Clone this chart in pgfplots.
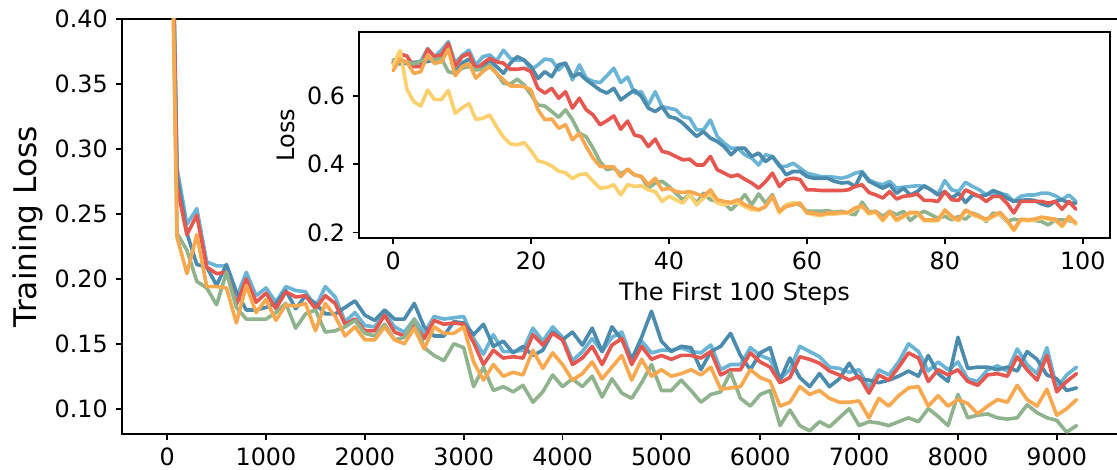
\documentclass[border=0pt]{standalone}
\usepackage{pgfplots}
\pgfplotsset{compat=1.18}
\usepackage{pgfplotstable}
\usepackage{fontspec}
\setmainfont{DejaVu Sans}

\definecolor{cLB}{HTML}{6AB5D6}
\definecolor{cDB}{HTML}{4A8BAE}
\definecolor{cR}{HTML}{E5574F}
\definecolor{cO}{HTML}{F8A84E}
\definecolor{cG}{HTML}{8FB38D}
\definecolor{cY}{HTML}{FDD06E}

\pgfplotstableread{
step lb db r o g
0 0.705 0.700 0.700 0.680 0.700
100 0.285 0.280 0.271 0.232 0.235
200 0.242 0.235 0.234 0.204 0.222
300 0.254 0.211 0.249 0.234 0.198
400 0.213 0.209 0.209 0.194 0.193
500 0.210 0.195 0.204 0.194 0.180
600 0.210 0.211 0.205 0.193 0.205
700 0.185 0.190 0.180 0.166 0.178
800 0.205 0.176 0.200 0.195 0.169
900 0.187 0.176 0.182 0.174 0.169
1000 0.193 0.178 0.189 0.184 0.169
1100 0.182 0.181 0.177 0.168 0.174
1200 0.194 0.191 0.190 0.180 0.181
1300 0.191 0.177 0.186 0.179 0.162
1400 0.190 0.187 0.187 0.181 0.173
1500 0.178 0.181 0.177 0.160 0.176
1600 0.194 0.173 0.187 0.181 0.159
1700 0.186 0.173 0.181 0.171 0.160
1800 0.167 0.178 0.165 0.156 0.163
1900 0.174 0.183 0.169 0.163 0.168
2000 0.164 0.172 0.160 0.153 0.158
2100 0.163 0.168 0.160 0.153 0.156
2200 0.174 0.176 0.172 0.163 0.165
2300 0.163 0.169 0.159 0.153 0.153
2400 0.159 0.169 0.156 0.150 0.155
2500 0.169 0.181 0.165 0.162 0.169
2600 0.158 0.163 0.154 0.146 0.147
2700 0.171 0.156 0.168 0.163 0.141
2800 0.169 0.156 0.165 0.158 0.137
2900 0.170 0.167 0.166 0.158 0.150
3000 0.171 0.166 0.165 0.163 0.147
3100 0.154 0.157 0.151 0.136 0.117
3200 0.142 0.165 0.134 0.122 0.132
3300 0.157 0.148 0.145 0.134 0.114
3400 0.144 0.152 0.139 0.125 0.117
3500 0.144 0.143 0.140 0.128 0.113
3600 0.145 0.148 0.139 0.126 0.118
3700 0.162 0.141 0.157 0.145 0.105
3800 0.152 0.145 0.149 0.131 0.113
3900 0.163 0.159 0.158 0.143 0.126
4000 0.155 0.153 0.153 0.134 0.117
4100 0.137 0.159 0.134 0.122 0.123
4200 0.144 0.149 0.139 0.127 0.117
4300 0.154 0.162 0.148 0.136 0.125
4400 0.144 0.144 0.134 0.123 0.109
4500 0.155 0.163 0.149 0.132 0.123
4600 0.159 0.153 0.154 0.141 0.112
4700 0.138 0.138 0.134 0.122 0.108
4800 0.152 0.155 0.148 0.138 0.120
4900 0.143 0.175 0.138 0.125 0.134
5000 0.145 0.152 0.141 0.130 0.114
5100 0.145 0.144 0.138 0.125 0.114
5200 0.147 0.148 0.141 0.127 0.122
5300 0.144 0.147 0.141 0.130 0.114
5400 0.143 0.130 0.139 0.126 0.105
5500 0.149 0.144 0.144 0.132 0.111
5600 0.130 0.148 0.126 0.115 0.113
5700 0.134 0.158 0.130 0.116 0.128
5800 0.134 0.141 0.130 0.117 0.108
5900 0.147 0.130 0.143 0.130 0.102
6000 0.141 0.143 0.136 0.124 0.111
6100 0.138 0.147 0.132 0.121 0.114
6200 0.123 0.122 0.120 0.102 0.087
6300 0.130 0.139 0.124 0.105 0.099
6400 0.148 0.124 0.140 0.117 0.087
6500 0.144 0.117 0.138 0.111 0.083
6600 0.140 0.127 0.135 0.114 0.090
6700 0.132 0.117 0.129 0.108 0.086
6800 0.131 0.123 0.126 0.105 0.093
6900 0.128 0.135 0.122 0.105 0.100
7000 0.130 0.123 0.125 0.106 0.087
7100 0.116 0.122 0.112 0.093 0.090
7200 0.130 0.120 0.126 0.108 0.089
7300 0.126 0.122 0.122 0.102 0.087
7400 0.136 0.125 0.132 0.110 0.090
7500 0.150 0.129 0.143 0.116 0.093
7600 0.144 0.125 0.139 0.117 0.090
7700 0.129 0.141 0.121 0.102 0.100
7800 0.136 0.127 0.130 0.110 0.094
7900 0.130 0.121 0.126 0.102 0.087
8000 0.136 0.155 0.130 0.107 0.111
8100 0.123 0.131 0.121 0.104 0.093
8200 0.121 0.132 0.118 0.096 0.095
8300 0.130 0.132 0.126 0.102 0.096
8400 0.133 0.130 0.127 0.107 0.093
8500 0.129 0.132 0.125 0.105 0.092
8600 0.146 0.129 0.140 0.118 0.093
8700 0.134 0.144 0.130 0.107 0.103
8800 0.127 0.138 0.122 0.102 0.097
8900 0.147 0.126 0.141 0.115 0.093
9000 0.116 0.123 0.113 0.095 0.091
9100 0.126 0.114 0.121 0.100 0.082
9200 0.132 0.116 0.127 0.107 0.087
}\maintable

\pgfplotstableread{
step lb db r g o y
0 0.700 0.697 0.697 0.707 0.675 0.690
1 0.700 0.695 0.724 0.703 0.708 0.734
2 0.697 0.697 0.718 0.700 0.700 0.620
3 0.689 0.699 0.687 0.695 0.667 0.584
4 0.702 0.702 0.687 0.703 0.672 0.571
5 0.740 0.702 0.738 0.711 0.721 0.618
6 0.716 0.706 0.716 0.707 0.696 0.590
7 0.735 0.716 0.721 0.711 0.701 0.590
8 0.760 0.745 0.755 0.672 0.738 0.617
9 0.697 0.667 0.687 0.667 0.660 0.550
10 0.720 0.697 0.716 0.682 0.687 0.566
11 0.735 0.709 0.726 0.687 0.696 0.578
12 0.692 0.687 0.679 0.677 0.653 0.532
13 0.716 0.687 0.696 0.679 0.672 0.535
14 0.721 0.705 0.711 0.692 0.687 0.545
15 0.704 0.687 0.701 0.667 0.667 0.510
16 0.735 0.667 0.697 0.638 0.648 0.480
17 0.711 0.697 0.679 0.636 0.630 0.460
18 0.706 0.716 0.679 0.650 0.630 0.457
19 0.706 0.706 0.682 0.633 0.628 0.464
20 0.677 0.687 0.672 0.604 0.618 0.440
21 0.692 0.652 0.623 0.574 0.560 0.410
22 0.709 0.672 0.609 0.571 0.531 0.405
23 0.706 0.657 0.623 0.555 0.533 0.395
24 0.677 0.692 0.594 0.538 0.506 0.380
25 0.697 0.697 0.613 0.560 0.516 0.375
26 0.648 0.657 0.565 0.531 0.472 0.358
27 0.692 0.667 0.594 0.491 0.491 0.370
28 0.653 0.648 0.560 0.481 0.452 0.372
29 0.643 0.633 0.545 0.447 0.418 0.350
30 0.640 0.618 0.516 0.408 0.394 0.330
31 0.660 0.609 0.528 0.384 0.392 0.332
32 0.682 0.623 0.542 0.389 0.392 0.340
33 0.640 0.589 0.503 0.372 0.364 0.310
34 0.656 0.604 0.527 0.384 0.386 0.340
35 0.609 0.618 0.486 0.369 0.369 0.335
36 0.613 0.599 0.481 0.364 0.364 0.337
37 0.574 0.565 0.452 0.330 0.340 0.325
38 0.613 0.555 0.474 0.345 0.359 0.320
39 0.569 0.569 0.438 0.350 0.325 0.291
40 0.565 0.540 0.433 0.335 0.330 0.306
41 0.560 0.535 0.423 0.315 0.320 0.296
42 0.540 0.521 0.413 0.296 0.317 0.286
43 0.535 0.501 0.415 0.311 0.320 0.311
44 0.501 0.482 0.398 0.286 0.313 0.281
45 0.501 0.496 0.398 0.315 0.306 0.301
46 0.530 0.477 0.423 0.296 0.325 0.315
47 0.482 0.467 0.384 0.291 0.296 0.286
48 0.462 0.452 0.374 0.286 0.291 0.281
49 0.447 0.428 0.364 0.266 0.288 0.286
50 0.447 0.447 0.369 0.286 0.296 0.286
51 0.428 0.447 0.356 0.311 0.281 0.276
52 0.418 0.423 0.345 0.281 0.274 0.266
53 0.398 0.433 0.330 0.313 0.266 0.266
54 0.428 0.408 0.349 0.286 0.276 0.276
55 0.423 0.423 0.374 0.311 0.306 0.306
56 0.394 0.398 0.335 0.262 0.262 0.257
57 0.394 0.369 0.355 0.281 0.276 0.281
58 0.403 0.379 0.359 0.286 0.281 0.286
59 0.389 0.379 0.355 0.281 0.286 0.286
60 0.374 0.364 0.325 0.262 0.257 0.257
61 0.369 0.359 0.325 0.262 0.257 0.252
62 0.364 0.359 0.323 0.262 0.252 0.249
63 0.364 0.359 0.323 0.264 0.257 0.254
64 0.362 0.350 0.323 0.259 0.257 0.254
65 0.359 0.345 0.323 0.262 0.259 0.256
66 0.364 0.347 0.325 0.256 0.259 0.256
67 0.374 0.335 0.335 0.252 0.272 0.269
68 0.379 0.376 0.340 0.289 0.278 0.275
69 0.354 0.350 0.317 0.260 0.257 0.254
70 0.345 0.340 0.310 0.262 0.262 0.259
71 0.340 0.330 0.301 0.247 0.237 0.234
72 0.350 0.340 0.320 0.262 0.262 0.259
73 0.330 0.315 0.298 0.252 0.237 0.234
74 0.333 0.330 0.306 0.262 0.249 0.246
75 0.335 0.310 0.308 0.235 0.259 0.256
76 0.337 0.320 0.313 0.252 0.259 0.256
77 0.335 0.337 0.294 0.262 0.237 0.234
78 0.325 0.325 0.294 0.252 0.237 0.234
79 0.313 0.310 0.291 0.242 0.237 0.234
80 0.352 0.320 0.320 0.247 0.266 0.263
81 0.325 0.301 0.296 0.237 0.247 0.244
82 0.320 0.315 0.294 0.247 0.237 0.234
83 0.347 0.288 0.325 0.239 0.266 0.263
84 0.335 0.310 0.315 0.257 0.255 0.252
85 0.325 0.306 0.306 0.249 0.247 0.244
86 0.310 0.310 0.291 0.232 0.239 0.236
87 0.315 0.323 0.306 0.257 0.249 0.246
88 0.315 0.315 0.306 0.252 0.259 0.256
89 0.310 0.301 0.286 0.232 0.237 0.234
90 0.291 0.291 0.257 0.239 0.208 0.205
91 0.306 0.294 0.291 0.235 0.239 0.236
92 0.310 0.296 0.291 0.237 0.237 0.234
93 0.310 0.294 0.291 0.235 0.239 0.236
94 0.315 0.284 0.291 0.232 0.245 0.242
95 0.315 0.278 0.286 0.222 0.242 0.239
96 0.308 0.291 0.291 0.237 0.239 0.236
97 0.296 0.296 0.268 0.237 0.220 0.217
98 0.310 0.286 0.291 0.235 0.247 0.244
99 0.291 0.286 0.268 0.229 0.227 0.224
}\insettable

\pgfplotsset{
  every axis/.append style={
    scale only axis,
    tick align=outside,
    xtick pos=left, ytick pos=left,
    major tick length=3.0pt,
    every tick/.append style={black, line width=0.9pt},
    axis line style={black, line width=0.9pt},
    tick label style={font=\fontsize{11.9}{14}\selectfont, inner sep=0pt},
    /pgf/number format/assume math mode=true,
    xticklabel style={/pgf/number format/set thousands separator={}},
    xticklabel shift=3.8pt,
    yticklabel shift=3.8pt,
  },
  curve/.style={line width=1.8pt, line join=round, line cap=round, mark=none},
}

\begin{document}
\begin{tikzpicture}
\begin{axis}[
  at={(0,0)}, anchor=south west,
  width=500.15pt, height=207.65pt,
  xmin=-460, xmax=9660, ymin=0.0803, ymax=0.40,
  xtick={0,1000,2000,3000,4000,5000,6000,7000,8000,9000},
  ytick={0.10,0.15,0.20,0.25,0.30,0.35,0.40},
  yticklabel style={/pgf/number format/.cd, fixed, fixed zerofill, precision=2},
  ylabel={Training Loss},
  ylabel style={at={(axis description cs:-0.0937,0.5)}, anchor=center, font=\fontsize{15.6}{18}\selectfont},
]
\addplot[curve, cLB] table[x=step, y=lb]{\maintable};
\addplot[curve, cDB] table[x=step, y=db]{\maintable};
\addplot[curve, cR] table[x=step, y=r]{\maintable};
\addplot[curve, cG] table[x=step, y=g]{\maintable};
\addplot[curve, cO] table[x=step, y=o]{\maintable};
\end{axis}

\begin{axis}[
  at={(118.65pt,98.15pt)}, anchor=south west,
  width=375.5pt, height=103.15pt,
  axis background/.style={fill=white},
  xmin=-4.95, xmax=103.95, ymin=0.1836, ymax=0.7894,
  xtick={0,20,40,60,80,100},
  ytick={0.2,0.4,0.6},
  yticklabel style={/pgf/number format/.cd, fixed, precision=1},
  xlabel={The First 100 Steps},
  ylabel={Loss},
  xlabel style={at={(axis description cs:0.5,-0.27)}, anchor=center, font=\fontsize{12}{14}\selectfont},
  ylabel style={at={(axis description cs:-0.0972,0.5)}, anchor=center, font=\fontsize{12}{14}\selectfont},
]
\addplot[curve, cLB] table[x=step, y=lb]{\insettable};
\addplot[curve, cDB] table[x=step, y=db]{\insettable};
\addplot[curve, cR] table[x=step, y=r]{\insettable};
\addplot[curve, cG] table[x=step, y=g]{\insettable};
\addplot[curve, cY] table[x=step, y=y]{\insettable};
\addplot[curve, cO] table[x=step, y=o]{\insettable};
\end{axis}
\pgfresetboundingbox
\path[use as bounding box] (-60.85pt,-17.85pt) rectangle (497.65pt,217.15pt);
\end{tikzpicture}
\end{document}
